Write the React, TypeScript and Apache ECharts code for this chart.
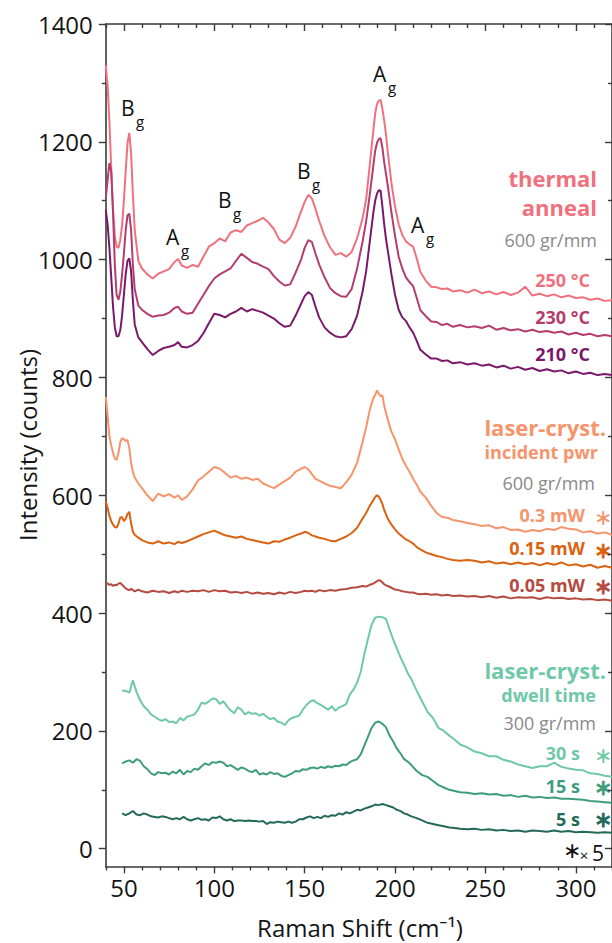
import React, { useEffect, useRef } from "react";
import * as echarts from "echarts";

// ---- 600 gr/mm x positions (cm-1) ----
const X_600 = [
  40, 41, 42, 43, 44, 45, 46, 47, 48, 49,
  50, 51, 52, 53, 54, 55, 56, 58, 60, 63,
  66, 69, 72, 75, 78, 80, 82, 85, 88, 91,
  94, 97, 100, 103, 106, 109, 112, 115, 118, 121,
  124, 127, 130, 133, 136, 139, 142, 145, 148, 150,
  152, 154, 156, 158, 161, 164, 167, 170, 173, 176,
  179, 182, 184, 186, 188, 189, 190, 191, 192, 193,
  194, 195, 196, 198, 200, 202, 204, 206, 208, 210,
  212, 214, 217, 220, 223, 226, 229, 232, 236, 240,
  244, 248, 252, 256, 260, 264, 268, 272, 276, 280,
  284, 288, 292, 296, 300, 304, 308, 312, 316, 320,
];

const T250 = [
  1330, 1295, 1235, 1155, 1085, 1040, 1022, 1020, 1033, 1058,
  1100, 1150, 1198, 1215, 1180, 1110, 1050, 998, 985, 975,
  968, 976, 980, 984, 996, 1001, 990, 986, 991, 988,
  1005, 1022, 1028, 1036, 1031, 1046, 1050, 1047, 1058, 1062,
  1066, 1071, 1063, 1052, 1034, 1028, 1037, 1056, 1082, 1098,
  1110, 1104, 1086, 1066, 1040, 1021, 1008, 1011, 1005, 1013,
  1036, 1070, 1102, 1160, 1220, 1248, 1264, 1270, 1271, 1256,
  1236, 1212, 1182, 1130, 1090, 1060, 1042, 1031, 1026, 1022,
  1002, 979, 964, 954, 953, 950, 951, 946, 948, 944,
  949, 943, 946, 941, 945, 940, 944, 954, 939, 942,
  938, 941, 936, 939, 935, 936, 932, 934, 930, 931,
];

const T230 = [
  1105, 1135, 1164, 1150, 1080, 990, 940, 932, 945, 975,
  1010, 1050, 1075, 1078, 1050, 990, 950, 922, 915, 908,
  903, 905, 906, 910, 918, 920, 912, 908, 910, 925,
  940, 955, 968, 975, 980, 985, 998, 1010, 1003, 996,
  993, 988, 984, 972, 963, 956, 958, 978, 1000, 1020,
  1033, 1030, 1010, 992, 970, 952, 943, 938, 937, 950,
  985, 1030, 1065, 1110, 1160, 1185, 1198, 1205, 1206, 1190,
  1165, 1145, 1125, 1080, 1040, 1005, 985, 970, 962, 955,
  935, 914, 904, 895, 894, 889, 891, 886, 889, 885,
  887, 884, 888, 881, 884, 880, 882, 878, 881, 877,
  879, 876, 878, 873, 876, 872, 874, 870, 872, 870,
];

const T210 = [
  1084, 1060, 1020, 970, 920, 885, 870, 870, 880, 905,
  940, 975, 998, 1002, 980, 930, 890, 868, 860, 848,
  838, 845, 850, 852, 855, 860, 852, 851, 855, 862,
  875, 892, 908, 906, 902, 908, 912, 918, 912, 916,
  913, 910, 905, 900, 892, 886, 888, 905, 925, 938,
  945, 940, 920, 902, 885, 876, 870, 868, 870, 882,
  905, 945, 980, 1030, 1080, 1100, 1112, 1118, 1117, 1090,
  1060, 1035, 1015, 975, 940, 915, 902, 896, 885, 876,
  862, 847, 839, 832, 832, 828, 829, 824, 826, 822,
  824, 820, 822, 817, 820, 815, 818, 813, 816, 811,
  814, 810, 812, 807, 810, 806, 808, 804, 806, 804,
];

const P03 = [
  767, 735, 700, 685, 672, 662, 660, 672, 690, 697,
  695, 692, 694, 680, 655, 640, 630, 620, 612, 600,
  590, 603, 598, 602, 596, 600, 592, 598, 610, 625,
  632, 640, 648, 645, 638, 630, 633, 628, 630, 626,
  628, 620, 616, 612, 618, 624, 630, 640, 645, 648,
  644, 636, 628, 625, 620, 616, 614, 612, 622, 635,
  655, 690, 715, 745, 765, 770, 778, 772, 768, 770,
  752, 740, 728, 708, 695, 678, 662, 650, 640, 628,
  618, 606, 596, 582, 570, 563, 562, 558, 556, 553,
  551, 548, 549, 544, 546, 541, 542, 538, 541, 539,
  543, 541, 546, 543, 542, 537, 539, 535, 537, 533,
];

const P015 = [
  590, 578, 565, 556, 550, 546, 545, 552, 562, 563,
  556, 560, 568, 572, 552, 538, 533, 528, 524, 520,
  518, 522, 518, 520, 517, 521, 519, 522, 526, 530,
  534, 537, 540, 536, 532, 530, 528, 530, 526, 524,
  522, 520, 518, 522, 521, 525, 528, 532, 535, 538,
  536, 532, 530, 528, 526, 523, 522, 526, 530, 536,
  545, 560, 570, 582, 592, 597, 600, 598, 592, 585,
  575, 568, 560, 550, 542, 535, 530, 525, 522, 518,
  512, 508, 503, 500, 497, 495, 492, 490, 489, 490,
  489, 486, 488, 484, 486, 483, 486, 483, 485, 481,
  485, 482, 486, 481, 483, 479, 482, 477, 480, 477,
];

const P005 = [
  452, 450, 448, 449, 446, 448, 447, 450, 451, 448,
  445, 442, 440, 439, 441, 439, 437, 440, 437, 435,
  438, 436, 437, 434, 437, 435, 438, 436, 438, 437,
  439, 436, 439, 437, 438, 435, 436, 434, 436, 433,
  435, 433, 434, 432, 435, 433, 436, 434, 436, 438,
  437, 438, 436, 439, 437, 439, 438, 440, 441, 443,
  444, 446, 445, 448, 450, 452, 454, 456, 455, 452,
  449, 447, 446, 443, 440, 439, 437, 436, 435, 435,
  433, 432, 433, 431, 432, 430, 431, 429, 430, 428,
  429, 427, 429, 426, 428, 425, 427, 426, 427, 424,
  427, 425, 426, 424, 425, 423, 424, 422, 423, 421,
];

// ---- 300 gr/mm x positions ----
const X_300 = [
  49, 51, 53, 55, 57, 59, 61, 63, 65, 67,
  69, 71, 73, 75, 77, 79, 81, 83, 85, 87,
  89, 91, 93, 95, 97, 99, 101, 103, 105, 107,
  109, 111, 113, 115, 117, 119, 121, 123, 125, 127,
  129, 131, 133, 135, 137, 139, 141, 143, 145, 147,
  149, 151, 153, 155, 157, 159, 161, 163, 165, 167,
  169, 171, 173, 175, 177, 179, 181, 183, 185, 187,
  189, 191, 193, 195, 197, 199, 201, 203, 205, 207,
  209, 212, 215, 218, 221, 224, 227, 230, 233, 236,
  240, 244, 248, 252, 256, 260, 264, 268, 272, 276,
  280, 284, 288, 292, 296, 300, 304, 308, 312, 316,
  320,
];

const D30 = [
  268, 268, 265, 286, 266, 252, 242, 236, 228, 224,
  220, 217, 220, 215, 216, 213, 222, 218, 224, 226,
  228, 236, 248, 246, 250, 255, 254, 246, 250, 242,
  235, 230, 240, 236, 228, 232, 229, 230, 226, 229,
  224, 220, 222, 216, 214, 210, 218, 222, 224, 226,
  236, 244, 250, 252, 247, 244, 240, 236, 242, 234,
  240, 242, 246, 262, 270, 282, 300, 330, 356, 380,
  392, 394, 393, 390, 372, 355, 340, 325, 312, 298,
  288, 268, 250, 232, 222, 205, 200, 192, 185, 177,
  172, 165, 162, 157, 157, 151, 148, 143, 140, 137,
  140, 140, 146, 139, 136, 134, 133, 128, 127, 124,
  122,
];

const D15 = [
  145, 148, 150, 146, 152, 149, 140, 135, 128, 125,
  130, 128, 129, 126, 131, 128, 134, 126, 132, 130,
  136, 134, 140, 145, 142, 147, 146, 148, 146, 140,
  142, 138, 134, 138, 136, 132, 130, 134, 126, 128,
  126, 130, 127, 128, 124, 122, 125, 128, 132, 131,
  135, 134, 137, 138, 136, 139, 137, 140, 138, 141,
  140, 143, 142, 147, 150, 152, 160, 175, 190, 205,
  214, 216, 212, 206, 192, 182, 170, 162, 152, 148,
  142, 132, 125, 122, 115, 108, 104, 100, 98, 96,
  95, 93, 94, 92, 93, 90, 91, 88, 90, 87,
  88, 86, 87, 85, 85, 84, 83, 81, 80, 79,
  78,
];

const D5 = [
  60, 57, 60, 64, 58, 57, 60, 58, 55, 54,
  53, 55, 54, 52, 50, 52, 50, 54, 50, 48,
  50, 52, 49, 50, 48, 53, 52, 55, 50, 48,
  50, 47, 48, 48, 47, 48, 47, 47, 46, 47,
  42, 45, 44, 46, 45, 44, 46, 44, 46, 50,
  50, 53, 55, 52, 54, 52, 56, 54, 57, 56,
  60, 58, 62, 60, 63, 66, 65, 68, 70, 72,
  75, 74, 76, 74, 72, 70, 66, 64, 60, 58,
  55, 52, 48, 44, 42, 40, 38, 36, 35, 34,
  33, 34, 32, 33, 31, 32, 30, 31, 29, 31,
  30, 29, 31, 29, 30, 28, 29, 28, 27, 28,
  27,
];

// ---- ticks ----
const X_MAJOR = [50, 100, 150, 200, 250, 300];
const X_MINOR = [40, 60, 70, 80, 90, 110, 120, 130, 140, 160, 170, 180, 190, 210, 220, 230, 240, 260, 270, 280, 290, 310, 320];
const Y_MAJOR = [0, 200, 400, 600, 800, 1000, 1200, 1400];
const Y_MINOR = [100, 300, 500, 700, 900, 1100, 1300];

const FONT = "'Open Sans', 'Noto Sans', sans-serif";
const AX = "#3a3a3a";

const C = {
  t250: "#f0717d",
  t230: "#b43d6d",
  t210: "#7a196b",
  p03: "#f6946b",
  p015: "#da6210",
  p005: "#b54a40",
  d30: "#6fc8a8",
  d15: "#3f9d7e",
  d5: "#25695a",
  gray: "#8a8a8a",
};

function pairs(xs: number[], ys: number[]) {
  return xs.map((x, i) => [x, ys[i]]);
}

function lineSeries(name: string, xs: number[], ys: number[], color: string) {
  return {
    type: "line",
    name,
    data: pairs(xs, ys),
    showSymbol: false,
    symbol: "none",
    silent: true,
    lineStyle: { color, width: 2 },
    emphasis: { disabled: true },
  };
}

function xAx(position: string, ticks: number[], len: number, inside: boolean, labels: boolean, line: boolean) {
  return {
    type: "value",
    min: 40,
    max: 320,
    position,
    axisLine: { show: line, onZero: false, lineStyle: { color: AX, width: 1.6 } },
    axisTick: { show: true, customValues: ticks, length: len, inside, lineStyle: { color: AX, width: 1.4 } },
    axisLabel: labels
      ? { show: true, customValues: ticks, fontSize: 24, color: "#151515", fontFamily: FONT, margin: 9, formatter: (v: number) => String(v) }
      : { show: false },
    splitLine: { show: false },
  };
}

function yAx(position: string, ticks: number[], len: number, inside: boolean, labels: boolean, line: boolean) {
  return {
    type: "value",
    min: -30,
    max: 1400,
    position,
    axisLine: { show: line, onZero: false, lineStyle: { color: AX, width: 1.6 } },
    axisTick: { show: true, customValues: ticks, length: len, inside, lineStyle: { color: AX, width: 1.4 } },
    axisLabel: labels
      ? { show: true, customValues: ticks, fontSize: 24, color: "#151515", fontFamily: FONT, margin: 13, formatter: (v: number) => String(v) }
      : { show: false },
    splitLine: { show: false },
  };
}

function txt(text: string, x: number, y: number, fill: string, size: number, weight: string | number, align = "right", extra: any = {}) {
  return {
    type: "text",
    x,
    y,
    silent: true,
    style: {
      text,
      fill,
      fontSize: size,
      fontWeight: weight,
      fontFamily: FONT,
      align,
      verticalAlign: "middle",
      ...extra,
    },
  };
}

function peak(main: string, x: number, y: number) {
  return [
    txt(main, x, y, "#111", 21, "normal", "left"),
    txt("g", x + 15, y + 13, "#111", 15, "normal", "left"),
  ];
}

export default function App() {
  const ref = useRef<HTMLDivElement>(null);
  useEffect(() => {
    const chart = echarts.init(ref.current!, null, { renderer: "svg" });
    const option: any = {
      animation: false,
      backgroundColor: "#ffffff",
      grid: { left: 105.8, top: 24, right: -2.6, bottom: 76.6, containLabel: false },
      xAxis: [
        xAx("bottom", X_MAJOR, 7, false, true, true),
        xAx("bottom", X_MINOR, 4, false, false, false),
        xAx("top", X_MAJOR, 7, true, false, true),
        xAx("top", X_MINOR, 4, true, false, false),
      ],
      yAxis: [
        yAx("left", Y_MAJOR, 7, false, true, true),
        yAx("left", Y_MINOR, 4, false, false, false),
        yAx("right", Y_MAJOR, 7, true, false, true),
        yAx("right", Y_MINOR, 4, true, false, false),
      ],
      series: [
        lineSeries("250 °C", X_600, T250, C.t250),
        lineSeries("230 °C", X_600, T230, C.t230),
        lineSeries("210 °C", X_600, T210, C.t210),
        lineSeries("0.3 mW", X_600, P03, C.p03),
        lineSeries("0.15 mW", X_600, P015, C.p015),
        lineSeries("0.05 mW", X_600, P005, C.p005),
        lineSeries("30 s", X_300, D30, C.d30),
        lineSeries("15 s", X_300, D15, C.d15),
        lineSeries("5 s", X_300, D5, C.d5),
      ],
      graphic: [
        {
          type: "text",
          x: 27,
          y: 445,
          rotation: Math.PI / 2,
          silent: true,
          style: { text: "Intensity (counts)", fill: "#151515", fontSize: 24, fontFamily: FONT, align: "center", verticalAlign: "middle" },
        },
        txt("Raman Shift (cm⁻¹)", 360, 927, "#151515", 24, "normal", "center"),
        ...peak("B", 121, 108),
        ...peak("A", 166, 237),
        ...peak("B", 218, 200),
        ...peak("B", 297, 171),
        ...peak("A", 373, 74),
        ...peak("A", 411, 225),
        txt("thermal", 597, 178, C.t250, 22, "bold"),
        txt("anneal", 597, 207, C.t250, 22, "bold"),
        txt("600 gr/mm", 597, 240, C.gray, 18, "normal"),
        txt("250 °C", 590, 280, C.t250, 18, "bold"),
        txt("230 °C", 590, 317, C.t230, 18, "bold"),
        txt("210 °C", 590, 354, C.t210, 18, "bold"),
        txt("laser-cryst.", 606, 427, C.p03, 22, "bold"),
        txt("incident pwr", 598, 452, C.p03, 18, "bold"),
        txt("600 gr/mm", 595, 483, C.gray, 18, "normal"),
        txt("0.3 mW", 585, 515, C.p03, 18, "bold"),
        txt("0.15 mW", 585, 548, C.p015, 18, "bold"),
        txt("0.05 mW", 585, 585, C.p005, 18, "bold"),
        txt("∗", 603, 516, C.p03, 22, "normal", "center"),
        txt("∗", 603, 549, C.p015, 22, "bold", "center"),
        txt("∗", 603, 585, C.p005, 22, "bold", "center"),
        txt("laser-cryst.", 606, 670, C.d30, 22, "bold"),
        txt("dwell time", 596, 695, C.d30, 18, "bold"),
        txt("300 gr/mm", 596, 723, C.gray, 18, "normal"),
        txt("30 s", 580, 753, C.d30, 18, "bold"),
        txt("15 s", 580, 786, C.d15, 18, "bold"),
        txt("5 s", 580, 819, C.d5, 18, "bold"),
        txt("∗", 603, 754, C.d30, 22, "normal", "center"),
        txt("∗", 603, 786, C.d15, 22, "bold", "center"),
        txt("∗", 603, 818, C.d5, 22, "bold", "center"),
        txt("∗", 572, 849, "#111", 22, "normal", "center"),
        txt("×", 584, 855, "#111", 15, "normal", "center"),
        txt("5", 592, 853, "#111", 21, "normal", "left"),
      ],
    };
    chart.setOption(option);
    return () => chart.dispose();
  }, []);
  return (
    <div
      ref={ref}
      style={{ position: "fixed", left: 0, top: 0, width: 612, height: 943, background: "#fff" }}
    />
  );
}
